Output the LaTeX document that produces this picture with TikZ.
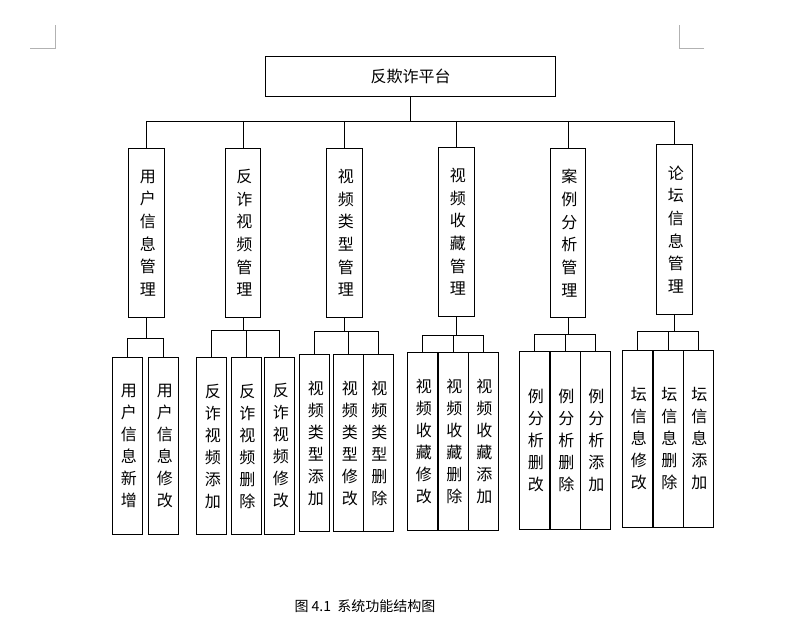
\documentclass[tikz,border=0pt]{standalone}
\usepackage{fontspec}
\newfontfamily\cjk{Noto Sans CJK SC}
\usepackage{tikz}
\usetikzlibrary{positioning}

\tikzset{
  topbox/.style={draw, minimum width=218pt, minimum height=30pt, font=\cjk\fontsize{12}{14}\selectfont},
  mainbox/.style={draw, minimum width=26.5pt, minimum height=127pt, text width=1em, align=center, font=\cjk\fontsize{12}{17}\selectfont},
  subbox/.style={draw, minimum width=22.5pt, minimum height=133pt, text width=1em, align=center, font=\cjk\fontsize{12}{16.5}\selectfont},
}

\begin{document}
\begin{tikzpicture}[x=0.75pt, y=-0.75pt, line width=0.6pt]
  \useasboundingbox (0,0) rectangle (792,624);
  % corner marks
  \draw[gray!60] (30,48) -- (55,48) -- (55,25);
  \draw[gray!60] (704,48) -- (679,48) -- (679,25);

  \node[topbox] (root) at (410.5,76) {反欺诈平台};

  \node[mainbox] (m1) at (146.5,233) {用\\户\\信\\息\\管\\理};
  \node[mainbox] (m2) at (243,233) {反\\诈\\视\\频\\管\\理};
  \node[mainbox] (m3) at (344.5,233) {视\\频\\类\\型\\管\\理};
  \node[mainbox] (m4) at (456.5,232) {视\\频\\收\\藏\\管\\理};
  \node[mainbox] (m5) at (568,233) {案\\例\\分\\析\\管\\理};
  \node[mainbox] (m6) at (674.5,229.5) {论\\坛\\信\\息\\管\\理};

  % top bus
  \coordinate (bus) at (root.south |- 0,121);
  \draw (root.south) -- (bus);
  \draw (m1.north |- bus) -- (m6.north |- bus);
  \foreach \m in {m1,m2,m3,m4,m5,m6}
    \draw (\m.north |- bus) -- (\m.north);

  % group 1
  \node[subbox] (s11) at (127.5,446) {用\\户\\信\\息\\新\\增};
  \node[subbox] (s12) at (163.5,446) {用\\户\\信\\息\\修\\改};
  % group 2
  \node[subbox] (s21) at (211.5,446) {反\\诈\\视\\频\\添\\加};
  \node[subbox] (s22) at (246,446) {反\\诈\\视\\频\\删\\除};
  \node[subbox] (s23) at (279.5,446) {反\\诈\\视\\频\\修\\改};
  % group 3
  \node[subbox] (s31) at (314.5,443) {视\\频\\类\\型\\添\\加};
  \node[subbox] (s32) at (348.5,443) {视\\频\\类\\型\\修\\改};
  \node[subbox] (s33) at (378,443) {视\\频\\类\\型\\删\\除};
  % group 4
  \node[subbox] (s41) at (422.5,441.5) {视\\频\\收\\藏\\修\\改};
  \node[subbox] (s42) at (453,441.5) {视\\频\\收\\藏\\删\\除};
  \node[subbox] (s43) at (483,441.5) {视\\频\\收\\藏\\添\\加};
  % group 5
  \node[subbox] (s51) at (534.5,440.5) {例\\分\\析\\删\\改};
  \node[subbox] (s52) at (565,440.5) {例\\分\\析\\删\\除};
  \node[subbox] (s53) at (595,440.5) {例\\分\\析\\添\\加};
  % group 6
  \node[subbox] (s61) at (637.5,439) {坛\\信\\息\\修\\改};
  \node[subbox] (s62) at (668,439) {坛\\信\\息\\删\\除};
  \node[subbox] (s63) at (698,439) {坛\\信\\息\\添\\加};

  % group buses
  \foreach \p/\y/\a/\b/\list in {m1/338/s11/s12/{s11,s12}, m2/330/s21/s23/{s21,s22,s23},
      m3/331/s31/s33/{s31,s32,s33}, m4/335/s41/s43/{s41,s42,s43},
      m5/334/s51/s53/{s51,s52,s53}, m6/331/s61/s63/{s61,s62,s63}} {
    \draw (\p.south) -- (\p.south |- 0,\y);
    \draw (\a.north |- 0,\y) -- (\b.north |- 0,\y);
    \foreach \s in \list
      \draw (\s.north |- 0,\y) -- (\s.north);
  }

  \node[font=\cjk\fontsize{10.5}{12}\selectfont] (cap) at (365,606) {图 4.1\ \ 系统功能结构图};
\end{tikzpicture}
\end{document}
